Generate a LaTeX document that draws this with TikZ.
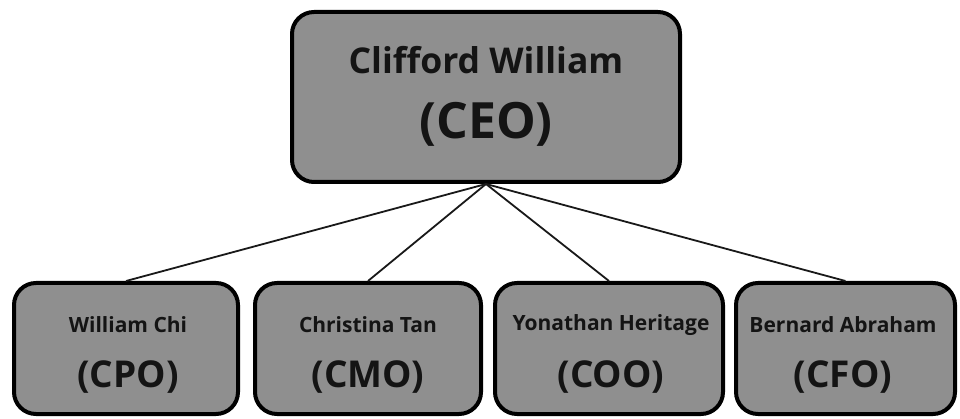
\documentclass[tikz,border=0pt]{standalone}
\usepackage{fontspec}
\setmainfont{Open Sans}
\begin{document}
\begin{tikzpicture}[x=1pt,y=-1pt,
  box/.style={draw=black, line width=4pt, fill=boxgray, rounded corners=22pt, inner sep=0pt},
  conn/.style={draw=black!90, line width=1.8pt},
  lbl/.style={font=\fontsize{#1}{#1}\selectfont\bfseries, text=black!92, inner sep=0pt}]
\definecolor{boxgray}{RGB}{143,143,143}
\fill[white] (0,0) rectangle (960,419);
\useasboundingbox (0,0) rectangle (960,419);
% boxes
\node[box, minimum width=388pt, minimum height=170pt] (ceo) at (486,97) {};
\node[box, minimum width=224pt, minimum height=131pt] (cpo) at (126,348.5) {};
\node[box, minimum width=226pt, minimum height=131pt] (cmo) at (368,348.5) {};
\node[box, minimum width=228pt, minimum height=131pt] (coo) at (609,348.5) {};
\node[box, minimum width=219pt, minimum height=131pt] (cfo) at (845.5,348.5) {};
% connectors
\draw[conn] (ceo.south) -- (cpo.north);
\draw[conn] (ceo.south) -- (cmo.north);
\draw[conn] (ceo.south) -- (coo.north);
\draw[conn] (ceo.south) -- (cfo.north);
% texts
\node[lbl=35.5] (ceoname) at (486,60) {Clifford William};
\node[lbl=50] (ceotitle) at (486,124.5) {(CEO)};
\node[lbl=21] (cponame) at (128,325) {William Chi};
\node[lbl=37] (cpotitle) at (128,377) {(CPO)};
\node[lbl=21] (cmoname) at (368,325) {Christina Tan};
\node[lbl=37] (cmotitle) at (368,377) {(CMO)};
\node[lbl=21] (cooname) at (611,325) {Yonathan Heritage};
\node[lbl=37] (cootitle) at (611,377) {(COO)};
\node[lbl=21] (cfoname) at (843,325) {Bernard Abraham};
\node[lbl=37] (cfotitle) at (843,377) {(CFO)};
\end{tikzpicture}
\end{document}
